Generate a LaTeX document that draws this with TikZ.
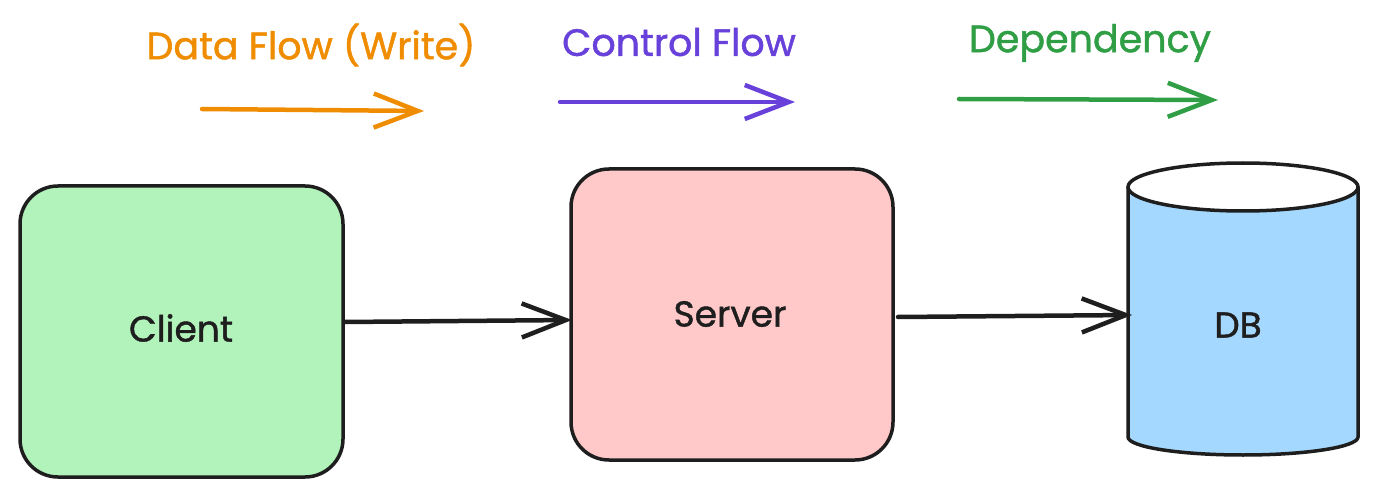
\documentclass[tikz,border=0pt]{standalone}
\usepackage{fontspec}
\setmainfont{Poppins}[FakeBold=1.2]
\usetikzlibrary{arrows.meta}
\definecolor{cOrange}{HTML}{F08C00}
\definecolor{cViolet}{HTML}{6741D9}
\definecolor{cGreen}{HTML}{2F9E44}
\definecolor{cClient}{HTML}{B2F2BB}
\definecolor{cServer}{HTML}{FFC9C9}
\definecolor{cDB}{HTML}{A5D8FF}
\definecolor{cInk}{HTML}{1E1E1E}
\tikzset{
  boxnode/.style={draw=cInk, line width=3.5pt, rounded corners=38pt, inner sep=0pt},
  lbl/.style={font=\fontsize{36}{40}\selectfont, text=cInk},
  legendlbl/.style={font=\fontsize{38}{42}\selectfont},
  flowarrow/.style={line width=4.5pt, line cap=round, -{Straight Barb[length=44pt,width=34pt,line width=4.5pt]}},
}
\begin{document}
\begin{tikzpicture}[x=1pt,y=-1pt]
\useasboundingbox (0,0) rectangle (1379,497);
% legend
\node[legendlbl, text=cOrange] (lt1) at (311,45) {Data Flow (Write)};
\node[legendlbl, text=cViolet] (lt2) at (679,42) {Control Flow};
\node[legendlbl, text=cGreen] (lt3) at (1090,43) {Dependency};
\coordinate (la1) at (202,109); \coordinate (lb1) at (424,111);
\coordinate (la2) at (560,102); \coordinate (lb2) at (795,102);
\coordinate (la3) at (959,99); \coordinate (lb3) at (1218,100);
\draw[flowarrow, draw=cOrange] (la1) -- (lb1);
\draw[flowarrow, draw=cViolet] (la2) -- (lb2);
\draw[flowarrow, draw=cGreen] (la3) -- (lb3);
% client
\draw[boxnode, fill=cClient] (20,186) rectangle (343,477);
\node[lbl] (client) at (181,328) {Client};
\coordinate (clientE) at (345,322);
% server
\draw[boxnode, fill=cServer] (571,169) rectangle (893,460);
\node[lbl] (server) at (730,314) {Server};
\coordinate (serverW) at (572,320);
\coordinate (serverE) at (898,317);
% db cylinder
\fill[cDB] (1128,187) -- (1128,437) arc[start angle=180,end angle=0,x radius=115,y radius=18] -- (1358,187) -- cycle;
\draw[cInk, line width=3.5pt] (1128,187) -- (1128,437) arc[start angle=180,end angle=0,x radius=115,y radius=18] -- (1358,187);
\draw[cInk, line width=3.5pt, fill=white] (1243,187) ellipse[x radius=115, y radius=24];
\node[lbl] (db) at (1238,325) {DB};
\coordinate (dbW) at (1132,315);
% connectors
\draw[flowarrow, draw=cInk] (clientE) -- (serverW);
\draw[flowarrow, draw=cInk] (serverE) -- (dbW);
\end{tikzpicture}
\end{document}
